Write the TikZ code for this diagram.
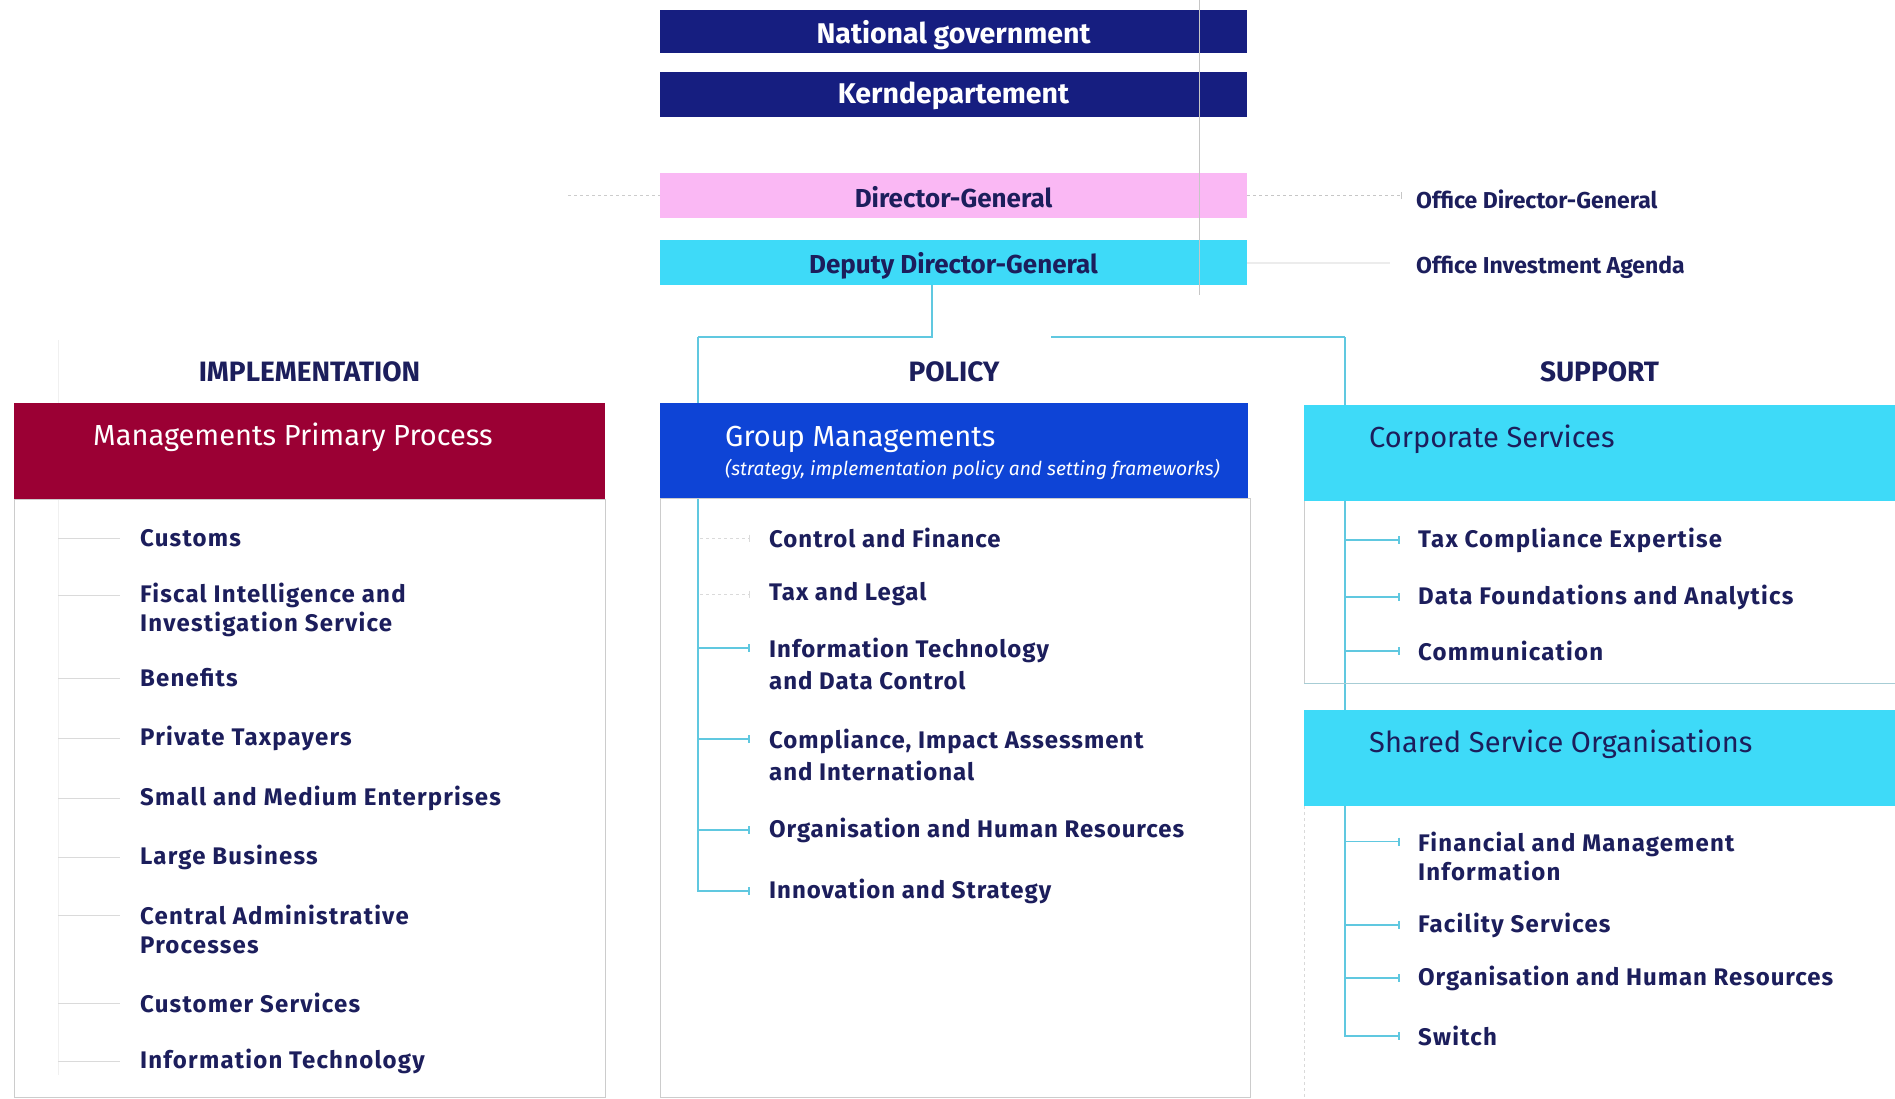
\documentclass[tikz,border=0pt]{standalone}
\usepackage{fontspec}
\setmainfont{Fira Sans}
\usetikzlibrary{arrows.meta}
\definecolor{navy}{RGB}{22,30,128}
\definecolor{txt}{RGB}{28,30,92}
\definecolor{pinkbox}{RGB}{250,184,244}
\definecolor{cyanbox}{RGB}{62,218,248}
\definecolor{crimson}{RGB}{155,0,52}
\definecolor{gmblue}{RGB}{14,68,214}
\definecolor{conn}{RGB}{96,200,224}
\definecolor{faint}{RGB}{218,218,218}
\begin{document}
\begin{tikzpicture}[x=1pt,y=-1pt,
  topbox/.style={minimum width=587pt, minimum height=44pt, inner sep=0pt},
  toptext/.style={inner sep=0pt, font=\fontsize{28.5}{32}\selectfont\bfseries},
  toptextb/.style={inner sep=0pt, font=\fontsize{26}{30}\selectfont\bfseries},
  hdrbox/.style={minimum width=591pt, minimum height=96pt, inner sep=0pt},
  boxtitle/.style={anchor=west, inner sep=0pt, text=white, font=\fontsize{29}{34}\selectfont},
  item/.style={anchor=west, inner sep=0pt, align=left, text=txt, font=\fontsize{24}{29}\selectfont\bfseries\addfontfeature{LetterSpace=5}},
  itemp/.style={item, font=\fontsize{24}{32}\selectfont\bfseries\addfontfeature{LetterSpace=4}},
  col/.style={inner sep=0pt, text=txt, font=\fontsize{28}{32}\selectfont\bfseries},
  office/.style={anchor=west, inner sep=0pt, text=txt, font=\fontsize{23}{27}\selectfont\bfseries},
  wire/.style={draw=conn, line width=1.6pt},
  tick/.style={wire, -{Bar[width=8pt, line width=1.6pt]}},
  ghost/.style={draw=faint, line width=1pt},
  ghosttick/.style={ghost, dashed, -{Bar[width=7pt]}},
  frame/.style={draw=gray!40, line width=1pt}]
\useasboundingbox (0,0) rectangle (1895,1098);
\fill[white] (0,0) rectangle (1895,1098);

% top boxes
\node[topbox, fill=navy, minimum height=43pt] (ng) at (953.5,31.5) {};
\node[toptext, text=white] (ngt) at (953.5,35) {National government};
\node[topbox, fill=navy, minimum height=45pt] (kd) at (953.5,94.5) {};
\node[toptext, text=white] (kdt) at (953.5,96) {Kerndepartement};
\node[topbox, fill=pinkbox, minimum height=45pt] (dg) at (953.5,195.5) {};
\node[toptextb, text=txt] (dgt) at (953.5,197) {Director-General};
\node[topbox, fill=cyanbox, minimum height=45pt] (ddg) at (953.5,262.5) {};
\node[toptextb, text=txt] (ddgt) at (953.5,266) {Deputy Director-General};
\draw[gray!45, line width=0.8pt] (1199,0) -- (1199,295);

% offices
\node[office] (odg) at (1416,199) {Office Director-General};
\node[office] (oia) at (1416,267) {Office Investment Agenda};
\draw[ghosttick, draw=gray!45] (dg.east) -- ([xshift=-14pt]odg.west |- dg.east);
\draw[ghost, draw=gray!15, line width=2pt] (ddg.east) -- ([xshift=-26pt]oia.west |- ddg.east);
\draw[ghost, dashed, draw=gray!40] (568,195.5) -- (dg.west);

% column headings
\node[col] (himp) at (309.5,372) {IMPLEMENTATION};
\node[col] (hpol) at (954,372) {POLICY};
\node[col] (hsup) at (1599.5,372) {SUPPORT};

% implementation items
\node[item] (i1) at (140,538) {Customs};
\node[item] (i2) at (140,609.5) {Fiscal Intelligence and\\Investigation Service};
\node[item] (i3) at (140,678) {Benefits};
\node[item] (i4) at (140,738) {Private Taxpayers};
\node[item] (i5) at (140,798) {Small and Medium Enterprises};
\node[item] (i6) at (140,857) {Large Business};
\node[item] (i7) at (140,929.5) {Central Administrative\\Processes};
\node[item] (i8) at (140,1003) {Customer Services};
\node[item] (i9) at (140,1061) {Information Technology};

% policy items
\node[itemp] (p1) at (769,538) {Control and Finance};
\node[itemp] (p2) at (769,594) {Tax and Legal};
\node[itemp] (p3) at (769,664) {Information Technology\\and Data Control};
\node[itemp] (p4) at (769,755) {Compliance, Impact Assessment\\and International};
\node[itemp] (p5) at (769,830) {Organisation and Human Resources};
\node[itemp] (p6) at (769,891) {Innovation and Strategy};

% support items
\node[item] (s1) at (1418,540) {Tax Compliance Expertise};
\node[item] (s2) at (1418,597) {Data Foundations and Analytics};
\node[item] (s3) at (1418,651) {Communication};
\node[item] (s4) at (1418,856) {Financial and Management\\Information};
\node[item] (s5) at (1418,925) {Facility Services};
\node[item, font=\fontsize{24}{29}\selectfont\bfseries\addfontfeature{LetterSpace=4}] (s6) at (1418,978) {Organisation and Human Resources};
\node[item] (s7) at (1418,1036) {Switch};

% spines
\coordinate (j) at (932,337);
\coordinate (spP) at (698,337);
\coordinate (spS) at (1345,337);
\coordinate (spI) at (58,340);
\draw[wire] (ddg.south -| j) -- (j) -- (spP);
\draw[wire] (1051,337) -- (spS);
\draw[tick] (spP) |- ([xshift=-19pt]p6.west);
\draw[tick] (spS) |- ([xshift=-18pt]s7.west);

% policy ticks
\draw[ghosttick] (p1.west -| spP) ++(2,0) -- ([xshift=-19pt]p1.west);
\draw[ghosttick] (p2.west -| spP) ++(2,0) -- ([xshift=-19pt]p2.west);
\draw[tick] ([yshift=16pt]p3.west -| spP) -- ([xshift=-19pt,yshift=16pt]p3.west);
\draw[tick] ([yshift=16pt]p4.west -| spP) -- ([xshift=-19pt,yshift=16pt]p4.west);
\draw[tick] (p5.west -| spP) -- ([xshift=-19pt]p5.west);

% support ticks
\foreach \n in {s1,s2,s3,s5,s6}
  \draw[tick] (\n.west -| spS) -- ([xshift=-18pt]\n.west);
\draw[tick] ([yshift=14.5pt]s4.west -| spS) -- ([xshift=-18pt,yshift=14.5pt]s4.west);

% implementation faint ticks
\draw[ghost, draw=gray!12] (spI) -- (58,1075);
\foreach \n in {i1,i3,i4,i5,i6,i8,i9}
  \draw[ghost] (\n.west -| spI) -- ([xshift=-20pt]\n.west);
\draw[ghost] ([yshift=14.5pt]i2.west -| spI) -- ([xshift=-20pt,yshift=14.5pt]i2.west);
\draw[ghost] ([yshift=14.5pt]i7.west -| spI) -- ([xshift=-20pt,yshift=14.5pt]i7.west);

% frames
\draw[frame] (14,499) rectangle (605,1097);
\draw[frame] (660,498) rectangle (1250,1097);
\draw[frame] (1304,500) -- (1304,683);
\draw[draw=conn!60!gray!60, line width=1pt] (1304,683) -- (1895,683);
\draw[frame, dashed, draw=gray!30] (1304,806) -- (1304,1097);

% header boxes
\node[hdrbox, fill=crimson] (mpp) at (309.5,451) {};
\node[boxtitle] (mppt) at (93,437.5) {Managements Primary Process};
\node[hdrbox, fill=gmblue, minimum width=588pt, minimum height=95pt] (gm) at (954,450.5) {};
\node[boxtitle] (gmt) at (725,439.5) {Group Managements};
\node[anchor=west, inner sep=0pt, text=white, font=\fontsize{19.2}{22}\selectfont\itshape] (gms) at (725,469.5) {(strategy, implementation policy and setting frameworks)};
\node[hdrbox, fill=cyanbox] (cs) at (1599.5,452.5) {};
\node[boxtitle, text=txt] (cst) at (1369,439) {Corporate Services};
\node[hdrbox, fill=cyanbox] (sso) at (1599.5,758) {};
\node[boxtitle, text=txt] (ssot) at (1369,744.5) {Shared Service Organisations};
\end{tikzpicture}
\end{document}
